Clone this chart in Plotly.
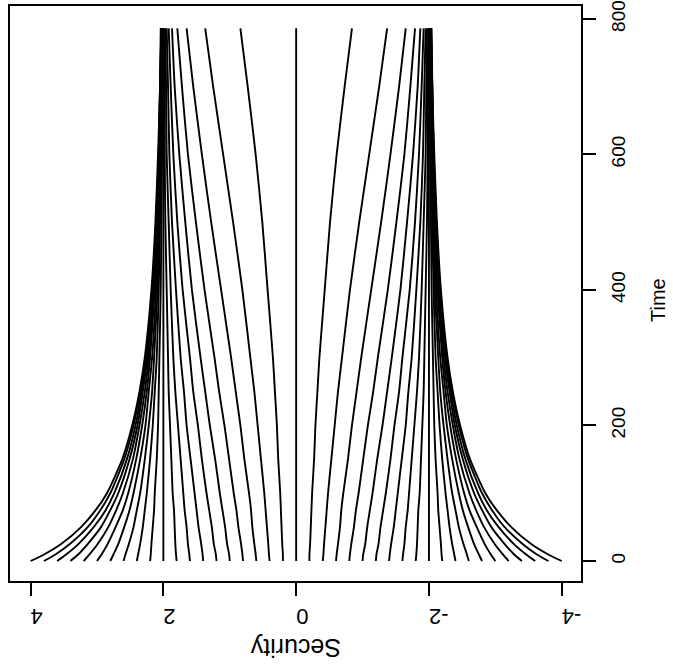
import plotly.graph_objects as go

# Time points (x-axis of the original plot, shown vertically here)
time_points = [0, 10, 25, 50, 75, 100, 150, 200, 250, 300, 400, 500, 600, 700, 786]

# Security trajectories starting above 2 (start 2.2 .. 4.0)
above_two = [
    [2.20, 2.19, 2.18, 2.16, 2.14, 2.13, 2.10, 2.08, 2.07, 2.06, 2.04, 2.03, 2.02, 2.01, 2.01],
    [2.40, 2.38, 2.35, 2.31, 2.28, 2.25, 2.20, 2.16, 2.13, 2.10, 2.07, 2.05, 2.03, 2.02, 2.01],
    [2.60, 2.57, 2.52, 2.45, 2.40, 2.35, 2.28, 2.22, 2.17, 2.14, 2.09, 2.06, 2.04, 2.03, 2.02],
    [2.80, 2.75, 2.68, 2.59, 2.51, 2.45, 2.35, 2.27, 2.22, 2.17, 2.11, 2.07, 2.05, 2.03, 2.02],
    [3.00, 2.93, 2.84, 2.72, 2.61, 2.53, 2.41, 2.32, 2.25, 2.20, 2.13, 2.08, 2.06, 2.04, 2.03],
    [3.20, 3.11, 2.99, 2.83, 2.71, 2.61, 2.46, 2.36, 2.28, 2.22, 2.14, 2.09, 2.06, 2.04, 2.03],
    [3.40, 3.28, 3.14, 2.94, 2.80, 2.68, 2.51, 2.39, 2.31, 2.24, 2.15, 2.10, 2.07, 2.04, 2.03],
    [3.60, 3.46, 3.28, 3.05, 2.87, 2.74, 2.55, 2.42, 2.33, 2.26, 2.16, 2.11, 2.07, 2.05, 2.03],
    [3.80, 3.62, 3.41, 3.14, 2.95, 2.80, 2.59, 2.45, 2.35, 2.27, 2.17, 2.11, 2.07, 2.05, 2.03],
    [4.00, 3.79, 3.54, 3.24, 3.02, 2.85, 2.62, 2.47, 2.36, 2.28, 2.18, 2.12, 2.08, 2.05, 2.04],
]

# Trajectories starting between 0 and 2 (start 0.2 .. 1.8)
zero_to_two = [
    [0.20, 0.20, 0.21, 0.22, 0.23, 0.24, 0.27, 0.29, 0.32, 0.35, 0.43, 0.51, 0.61, 0.73, 0.84],
    [0.40, 0.41, 0.42, 0.44, 0.46, 0.48, 0.53, 0.58, 0.63, 0.69, 0.81, 0.95, 1.10, 1.25, 1.37],
    [0.60, 0.61, 0.63, 0.66, 0.68, 0.71, 0.78, 0.84, 0.91, 0.98, 1.13, 1.28, 1.42, 1.55, 1.65],
    [0.80, 0.81, 0.83, 0.87, 0.90, 0.94, 1.01, 1.08, 1.16, 1.23, 1.38, 1.51, 1.63, 1.72, 1.79],
    [1.00, 1.01, 1.04, 1.07, 1.11, 1.15, 1.22, 1.30, 1.37, 1.44, 1.57, 1.67, 1.76, 1.83, 1.87],
    [1.20, 1.21, 1.24, 1.27, 1.31, 1.35, 1.42, 1.48, 1.55, 1.60, 1.71, 1.79, 1.85, 1.89, 1.92],
    [1.40, 1.41, 1.43, 1.47, 1.50, 1.53, 1.59, 1.65, 1.69, 1.74, 1.81, 1.87, 1.91, 1.93, 1.95],
    [1.60, 1.61, 1.63, 1.65, 1.68, 1.70, 1.74, 1.78, 1.82, 1.85, 1.89, 1.92, 1.95, 1.96, 1.97],
    [1.80, 1.81, 1.82, 1.83, 1.84, 1.86, 1.88, 1.90, 1.92, 1.93, 1.95, 1.97, 1.98, 1.98, 1.99],
]

# Trajectories starting between 0 and -2 (start -0.2 .. -1.8)
zero_to_minus_two = [
    [-0.20, -0.20, -0.21, -0.22, -0.23, -0.24, -0.27, -0.29, -0.32, -0.35, -0.43, -0.51, -0.61, -0.73, -0.84],
    [-0.40, -0.41, -0.42, -0.44, -0.46, -0.48, -0.53, -0.58, -0.63, -0.69, -0.81, -0.95, -1.10, -1.25, -1.37],
    [-0.60, -0.61, -0.63, -0.66, -0.68, -0.71, -0.78, -0.84, -0.91, -0.98, -1.13, -1.28, -1.42, -1.55, -1.65],
    [-0.80, -0.81, -0.83, -0.87, -0.90, -0.94, -1.01, -1.08, -1.16, -1.23, -1.38, -1.51, -1.63, -1.72, -1.79],
    [-1.00, -1.01, -1.04, -1.07, -1.11, -1.15, -1.22, -1.30, -1.37, -1.44, -1.57, -1.67, -1.76, -1.83, -1.87],
    [-1.20, -1.21, -1.24, -1.27, -1.31, -1.35, -1.42, -1.48, -1.55, -1.60, -1.71, -1.79, -1.85, -1.89, -1.92],
    [-1.40, -1.41, -1.43, -1.47, -1.50, -1.53, -1.59, -1.65, -1.69, -1.74, -1.81, -1.87, -1.91, -1.93, -1.95],
    [-1.60, -1.61, -1.63, -1.65, -1.68, -1.70, -1.74, -1.78, -1.82, -1.85, -1.89, -1.92, -1.95, -1.96, -1.97],
    [-1.80, -1.81, -1.82, -1.83, -1.84, -1.86, -1.88, -1.90, -1.92, -1.93, -1.95, -1.97, -1.98, -1.98, -1.99],
]

# Trajectories starting below -2 (start -2.2 .. -4.0)
below_minus_two = [
    [-2.20, -2.19, -2.18, -2.16, -2.14, -2.13, -2.10, -2.08, -2.07, -2.06, -2.04, -2.03, -2.02, -2.01, -2.01],
    [-2.40, -2.38, -2.35, -2.31, -2.28, -2.25, -2.20, -2.16, -2.13, -2.10, -2.07, -2.05, -2.03, -2.02, -2.01],
    [-2.60, -2.57, -2.52, -2.45, -2.40, -2.35, -2.28, -2.22, -2.17, -2.14, -2.09, -2.06, -2.04, -2.03, -2.02],
    [-2.80, -2.75, -2.68, -2.59, -2.51, -2.45, -2.35, -2.27, -2.22, -2.17, -2.11, -2.07, -2.05, -2.03, -2.02],
    [-3.00, -2.93, -2.84, -2.72, -2.61, -2.53, -2.41, -2.32, -2.25, -2.20, -2.13, -2.08, -2.06, -2.04, -2.03],
    [-3.20, -3.11, -2.99, -2.83, -2.71, -2.61, -2.46, -2.36, -2.28, -2.22, -2.14, -2.09, -2.06, -2.04, -2.03],
    [-3.40, -3.28, -3.14, -2.94, -2.80, -2.68, -2.51, -2.39, -2.31, -2.24, -2.15, -2.10, -2.07, -2.04, -2.03],
    [-3.60, -3.46, -3.28, -3.05, -2.87, -2.74, -2.55, -2.42, -2.33, -2.26, -2.16, -2.11, -2.07, -2.05, -2.03],
    [-3.80, -3.62, -3.41, -3.14, -2.95, -2.80, -2.59, -2.45, -2.35, -2.27, -2.17, -2.11, -2.07, -2.05, -2.03],
    [-4.00, -3.79, -3.54, -3.24, -3.02, -2.85, -2.62, -2.47, -2.36, -2.28, -2.18, -2.12, -2.08, -2.05, -2.04],
]

# Equilibrium trajectories that stay flat
flat_levels = [2.0, 0.0, -2.0]

security_ticks = [4, 2, 0, -2, -4]
time_ticks = [0, 200, 400, 600, 800]

FONT = "Liberation Sans, Arial, Helvetica, sans-serif"

fig = go.Figure()
line_style = dict(color="black", width=1.9, shape="spline", smoothing=0.6)

for group in (above_two, zero_to_two, zero_to_minus_two, below_minus_two):
    for row in group:
        fig.add_trace(go.Scatter(x=row, y=time_points, mode="lines",
                                 line=line_style, showlegend=False, hoverinfo="skip"))
for lvl in flat_levels:
    fig.add_trace(go.Scatter(x=[lvl] * len(time_points), y=time_points, mode="lines",
                             line=dict(color="black", width=1.9), showlegend=False,
                             hoverinfo="skip"))

fig.update_layout(
    width=673, height=667,
    margin=dict(l=10, r=92, t=6, b=86),
    paper_bgcolor="white", plot_bgcolor="white",
    font=dict(family=FONT, color="black"),
    xaxis=dict(
        range=[4.31, -4.29], tickvals=security_ticks,
        ticktext=[str(v) for v in security_ticks],
        tickangle=180, ticks="outside", ticklen=13, tickwidth=1.5, tickcolor="black",
        tickfont=dict(size=22, family=FONT, color="black"),
        ticklabelstandoff=9,
        showline=True, linecolor="black", linewidth=1.5, mirror=True,
        showgrid=False, zeroline=False, automargin=False,
    ),
    yaxis=dict(
        range=[-29.5, 819], side="right", tickvals=time_ticks,
        ticktext=[str(v) for v in time_ticks],
        tickangle=-90, ticks="outside", ticklen=13, tickwidth=1.5, tickcolor="black",
        tickfont=dict(size=19, family=FONT, color="black"),
        ticklabelstandoff=6,
        showline=True, linecolor="black", linewidth=1.5, mirror=True,
        showgrid=False, zeroline=False, automargin=False,
    ),
    annotations=[
        dict(text="Security", x=0.5009, y=-0.1165, xref="paper", yref="paper",
             showarrow=False, textangle=180, font=dict(size=25, family=FONT, color="black"),
             xanchor="center", yanchor="middle"),
        dict(text="Time", x=1.1349, y=0.4887, xref="paper", yref="paper",
             showarrow=False, textangle=-90, font=dict(size=20, family=FONT, color="black"),
             xanchor="center", yanchor="middle"),
    ],
)

fig.write_html("out.html")
